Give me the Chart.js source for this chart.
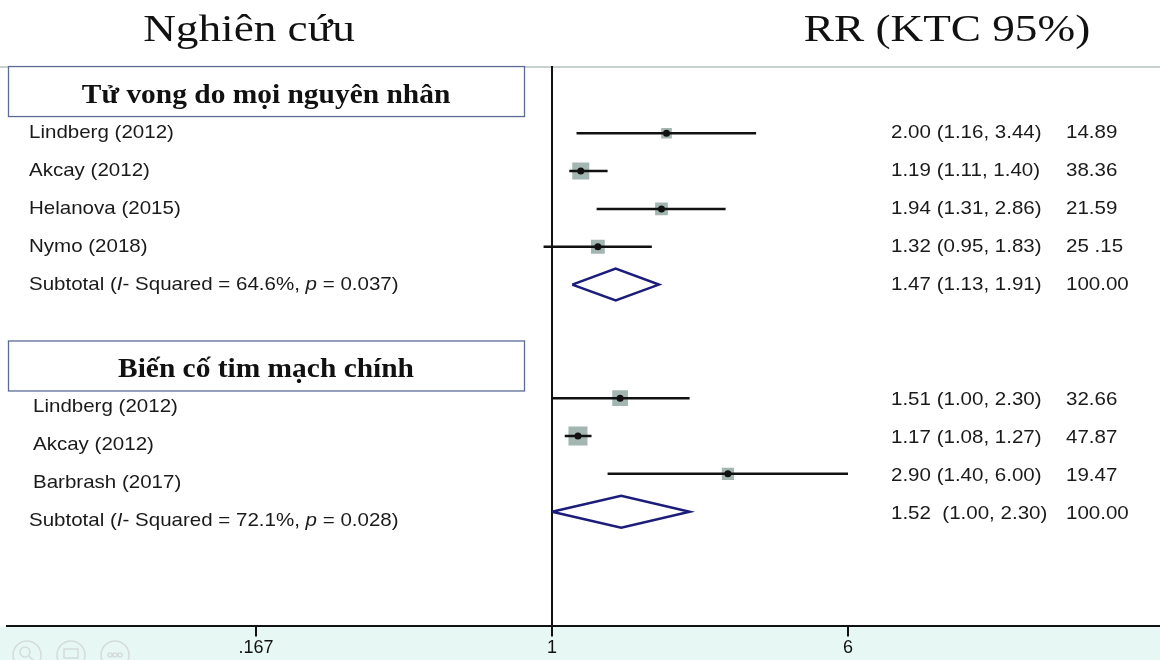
<!DOCTYPE html>
<html>
<head>
<meta charset="utf-8">
<script src="https://cdn.jsdelivr.net/npm/chart.js@4"></script>
<style>
  body { margin: 0; background: #fff; }
  canvas { display: block; }
</style>
</head>
<body>
<canvas id="forestChart" width="1160" height="660"></canvas>
<script>
// Individual studies (rows 0-3: all-cause death, rows 7-9: major CV events)
const studyLabels = ['Lindberg (2012)', 'Akcay (2012)', 'Helanova (2015)', 'Nymo (2018)',
                     'Lindberg (2012)', 'Akcay (2012)', 'Barbrash (2017)'];
const studyRows = [0, 1, 2, 3, 7, 8, 9];
const studyRR = [2.00, 1.19, 1.94, 1.32, 1.51, 1.17, 2.90];
const studyLower = [1.16, 1.11, 1.31, 0.95, 1.00, 1.08, 1.40];
const studyUpper = [3.44, 1.40, 2.86, 1.83, 2.30, 1.27, 6.00];
const studyWeights = [14.89, 38.36, 21.59, 25.15, 32.66, 47.87, 19.47];
const studyCiText = ['2.00 (1.16, 3.44)', '1.19 (1.11, 1.40)', '1.94 (1.31, 2.86)', '1.32 (0.95, 1.83)',
                     '1.51 (1.00, 2.30)', '1.17 (1.08, 1.27)', '2.90 (1.40, 6.00)'];
const studyWeightText = ['14.89', '38.36', '21.59', '25 .15', '32.66', '47.87', '19.47'];

// Subtotals (pooled estimates)
const groupTitles = ['Tử vong do mọi nguyên nhân', 'Biến cố tim mạch chính'];
const groupHeaderRows = [-1.1, 6.15];
const subRows = [4, 10];
const subRR = [1.47, 1.52];
const subLower = [1.13, 1.00];
const subUpper = [1.91, 2.30];
const subISquared = ['64.6%', '72.1%'];
const subP = ['0.037', '0.028'];
const subCiText = ['1.47 (1.13, 1.91)', '1.52  (1.00, 2.30)'];
const subWeightText = ['100.00', '100.00'];

// Axis
const tickValues = [1 / 6, 1, 6];
const tickLabels = ['.167', '1', '6'];

const SANS = '"Liberation Sans", Arial, sans-serif';
const SERIF = '"Liberation Serif", "Times New Roman", serif';

function drawParts(ctx, parts, x, y, sx, align) {
    ctx.save();
    ctx.translate(x, y);
    ctx.scale(sx, 1);
    let total = 0;
    parts.forEach(p => { ctx.font = p[1]; total += ctx.measureText(p[0]).width; });
    let cx = align === 'center' ? -total / 2 : 0;
    ctx.textAlign = 'left';
    parts.forEach(p => {
        ctx.font = p[1];
        ctx.fillText(p[0], cx, 0);
        cx += ctx.measureText(p[0]).width;
    });
    ctx.restore();
}

// Build datasets
const datasets = [];

// CI lines
studyRR.forEach((v, i) => {
    datasets.push({
        type: 'scatter',
        showLine: true,
        data: [{ x: studyLower[i], y: studyRows[i] }, { x: studyUpper[i], y: studyRows[i] }],
        borderColor: '#111',
        borderWidth: 2.5,
        pointRadius: 0,
        order: 2
    });
});

// Weight boxes
datasets.push({
    type: 'scatter',
    data: studyRR.map((v, i) => ({ x: v, y: studyRows[i] })),
    pointStyle: 'rect',
    pointRadius: c => 2.75 * Math.sqrt(studyWeights[c.dataIndex]) / Math.SQRT2,
    backgroundColor: '#a4b6b1',
    borderWidth: 0,
    order: 3
});

// Point estimates
datasets.push({
    type: 'scatter',
    data: studyRR.map((v, i) => ({ x: v, y: studyRows[i] })),
    pointStyle: 'circle',
    pointRadius: 3.5,
    backgroundColor: '#111',
    borderWidth: 0,
    order: 1
});

// Subtotal diamonds
subRR.forEach((v, i) => {
    const r = subRows[i];
    datasets.push({
        type: 'scatter',
        showLine: true,
        data: [
            { x: subLower[i], y: r }, { x: v, y: r - 0.42 },
            { x: subUpper[i], y: r }, { x: v, y: r + 0.42 },
            { x: subLower[i], y: r }
        ],
        borderColor: '#1c1c7a',
        borderWidth: 2.5,
        borderJoinStyle: 'miter',
        pointRadius: 0,
        tension: 0,
        order: 1
    });
});

// Background, header boxes and text columns
const forestText = {
    id: 'forestText',
    beforeDraw(chart) {
        const { ctx, chartArea, width, height } = chart;
        ctx.save();
        ctx.fillStyle = '#fff';
        ctx.fillRect(0, 0, width, height);
        ctx.fillStyle = '#e7f8f4';
        ctx.fillRect(0, chartArea.bottom, width, height - chartArea.bottom);

        // faint toolbar icons
        ctx.strokeStyle = '#d4dcda';
        ctx.lineWidth = 1.5;
        [27, 71, 115].forEach((cx, k) => {
            ctx.beginPath();
            ctx.arc(cx, 655, 14, 0, Math.PI * 2);
            ctx.stroke();
            ctx.beginPath();
            if (k === 0) {
                ctx.arc(cx - 2, 652, 5, 0, Math.PI * 2);
                ctx.moveTo(cx + 2, 656);
                ctx.lineTo(cx + 7, 661);
            } else if (k === 1) {
                ctx.rect(cx - 7, 649, 14, 9);
            } else {
                [-5, 0, 5].forEach(d => { ctx.moveTo(cx + d + 2, 655); ctx.arc(cx + d, 655, 2, 0, Math.PI * 2); });
            }
            ctx.stroke();
        });

        // top rule
        ctx.strokeStyle = '#c8d0d0';
        ctx.lineWidth = 2;
        ctx.beginPath();
        ctx.moveTo(0, chartArea.top + 1);
        ctx.lineTo(width, chartArea.top + 1);
        ctx.stroke();
        ctx.restore();
    },
    afterDraw(chart) {
        const { ctx } = chart;
        const yScale = chart.scales.y;
        ctx.save();
        ctx.fillStyle = '#111';
        ctx.textBaseline = 'alphabetic';

        // column titles
        drawParts(ctx, [['Nghiên cứu', '38px ' + SERIF]], 249, 41, 1.19, 'center');
        drawParts(ctx, [['RR (KTC 95%)', '38px ' + SERIF]], 947, 41, 1.19, 'center');

        // group header boxes
        groupTitles.forEach((t, g) => {
            const cy = yScale.getPixelForValue(groupHeaderRows[g]);
            ctx.fillStyle = '#fff';
            ctx.fillRect(8, cy - 25, 516, 50);
            ctx.strokeStyle = '#5b6b96';
            ctx.lineWidth = 1.3;
            ctx.strokeRect(8.5, cy - 25, 516, 50);
            ctx.fillStyle = '#111';
            drawParts(ctx, [[t, 'bold 27px ' + SERIF]], 266, cy + 11.5, 1.09, 'center');
        });

        ctx.textBaseline = 'middle';
        ctx.fillStyle = '#1a1a1a';
        const f = '19px ' + SANS;
        const fi = 'italic 19px ' + SANS;

        // study rows
        studyLabels.forEach((lab, i) => {
            const py = yScale.getPixelForValue(studyRows[i]);
            const second = studyRows[i] > 5;
            drawParts(ctx, [[lab, f]], second ? 33 : 29, py + (second ? 9 : 0), 1.08, 'left');
            drawParts(ctx, [[studyCiText[i], f]], 891, py + (second ? 2 : 0), 1.08, 'left');
            drawParts(ctx, [[studyWeightText[i], f]], 1066, py + (second ? 2 : 0), 1.08, 'left');
        });

        // subtotal rows
        subRows.forEach((r, g) => {
            const py = yScale.getPixelForValue(r);
            const shift = g === 1 ? 9 : 0;
            drawParts(ctx, [
                ['Subtotal (', f], ['I', fi], ['- Squared = ' + subISquared[g] + ', ', f],
                ['p', fi], [' = ' + subP[g] + ')', f]
            ], 29, py + shift, 1.08, 'left');
            drawParts(ctx, [[subCiText[g], f]], 891, py + (g === 1 ? 2 : 0), 1.08, 'left');
            drawParts(ctx, [[subWeightText[g], f]], 1066, py + (g === 1 ? 2 : 0), 1.08, 'left');
        });
        ctx.restore();
    }
};

const forestChart = new Chart(document.getElementById('forestChart'), {
    type: 'scatter',
    data: { datasets: datasets },
    options: {
        responsive: false,
        animation: false,
        layout: { autoPadding: false, padding: { top: 66, left: 7, right: 0, bottom: 0 } },
        plugins: {
            legend: { display: false },
            tooltip: { enabled: false }
        },
        scales: {
            x: {
                type: 'logarithmic',
                min: 0.0369,
                max: 39.67,
                afterBuildTicks: scale => {
                    scale.ticks = tickValues.map(v => ({ value: v }));
                },
                ticks: {
                    callback: (value, index) => tickLabels[index],
                    color: '#111',
                    font: { family: SANS, size: 18 },
                    maxRotation: 0,
                    autoSkip: false,
                    padding: 1
                },
                grid: {
                    color: c => (c.tick && c.tick.value === 1) ? '#111' : 'rgba(0,0,0,0)',
                    lineWidth: 2,
                    tickColor: '#111',
                    tickLength: 10,
                    tickWidth: 2
                },
                border: { color: '#111', width: 2 }
            },
            y: {
                type: 'linear',
                reverse: true,
                min: -1.775,
                max: 13.03,
                display: false
            }
        }
    },
    plugins: [forestText]
});
</script>
</body>
</html>
